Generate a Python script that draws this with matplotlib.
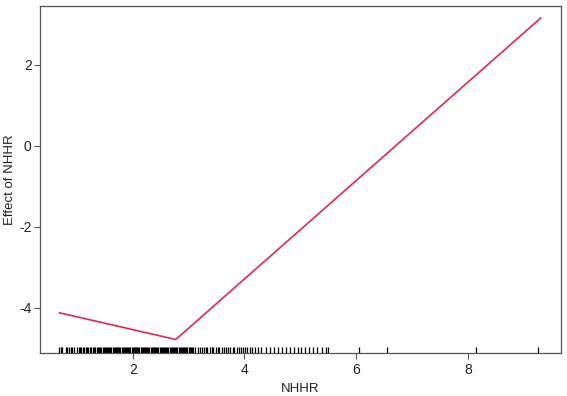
import numpy as np
import matplotlib.pyplot as plt
import matplotlib.transforms as mtransforms

plt.rcParams['font.family'] = ['Liberation Sans', 'DejaVu Sans']

# fitted segmented effect (knots)
nhhr_knots = [0.69, 2.77, 9.30]
effect_knots = [-4.13, -4.79, 3.16]

# observed NHHR values (rug)
rug_sparse_low = [0.68, 0.72, 0.74, 0.81, 0.82, 0.86, 0.90, 0.91, 0.95, 1.00,
                  1.04, 1.06, 1.08, 1.11, 1.13, 1.16, 1.18, 1.20, 1.24, 1.25,
                  1.29, 1.31, 1.33, 1.36, 1.38, 1.40]
rug_dense = [1.42, 1.44, 1.46, 1.48, 1.50, 1.52, 1.54, 1.56, 1.58, 1.60,
             1.62, 1.64, 1.66, 1.68, 1.70, 1.72, 1.74, 1.76, 1.78, 1.80,
             1.82, 1.84, 1.86, 1.88, 1.90, 1.92, 1.94, 1.96, 1.98, 2.00,
             2.02, 2.04, 2.06, 2.08, 2.10, 2.12, 2.14, 2.16, 2.18, 2.20,
             2.22, 2.24, 2.26, 2.28, 2.30, 2.32, 2.34, 2.36, 2.38, 2.40,
             2.42, 2.44, 2.46, 2.48, 2.50, 2.52, 2.54, 2.56, 2.58, 2.60,
             2.62, 2.64, 2.66, 2.68, 2.70, 2.72, 2.74, 2.76, 2.78, 2.80,
             2.82, 2.84, 2.86, 2.88, 2.90, 2.92, 2.94, 2.96, 2.98, 3.00,
             3.02, 3.04, 3.06, 3.08]
rug_mid = [3.11, 3.17, 3.20, 3.24, 3.27, 3.31, 3.33, 3.38, 3.41, 3.44,
           3.49, 3.52, 3.55, 3.60, 3.63, 3.67, 3.70, 3.74, 3.79, 3.82,
           3.86, 3.90, 3.93, 3.97, 4.01, 4.05, 4.09, 4.13, 4.18]
rug_sparse_high = [4.25, 4.30, 4.38, 4.45, 4.52, 4.60, 4.68, 4.75, 4.82, 4.88,
                   4.95, 5.02, 5.08, 5.15, 5.22, 5.30, 5.38, 5.45, 5.50,
                   6.05, 6.55, 8.15, 9.25]
rug_x = rug_sparse_low + rug_dense + rug_mid + rug_sparse_high

fig = plt.figure(figsize=(5.67, 3.96), dpi=100)
ax = fig.add_axes([0.0705, 0.109, 0.9185, 0.876])

ax.plot(nhhr_knots, effect_knots, color='#E0294F', lw=1.2)

trans = mtransforms.blended_transform_factory(ax.transData, ax.transAxes)
ax.vlines(rug_x, 0, 0.016, transform=trans, color='black', lw=0.9)

ax.set_xlim(0.34, 9.66)
ax.set_ylim(-5.12, 3.46)
ax.set_xticks([2, 4, 6, 8])
ax.set_yticks([-4, -2, 0, 2])
ax.set_xticklabels(['2', '4', '6', '8'])
ax.set_yticklabels(['-4', '-2', '0', '2'])

for s in ax.spines.values():
    s.set_color('#555555')
    s.set_linewidth(0.9)
ax.tick_params(colors='#555555', labelcolor='#222222', labelsize=10,
               length=4, width=0.8, direction='out')
ax.tick_params(axis='y', pad=2)

ax.set_xlabel('NHHR', fontsize=9.5, color='#222222', labelpad=4)
ax.set_ylabel('Effect of NHHR', fontsize=9.5, color='#222222', va='center')
ax.yaxis.set_label_coords(-0.058, 0.5)

fig.savefig('out.png', dpi=100)
